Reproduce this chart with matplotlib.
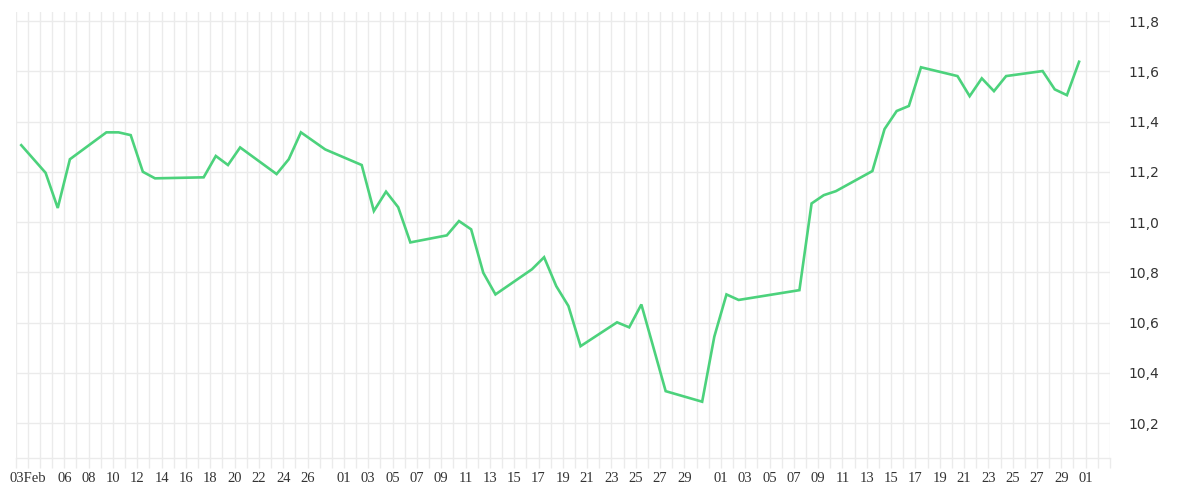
# Linha de cotação diária, fev a mai, eixo de valores à direita

import pandas as pd
import matplotlib
matplotlib.use('Agg')
import matplotlib.pyplot as plt
import matplotlib.dates as mdates
from matplotlib.ticker import FixedLocator, FuncFormatter

# Datas das leituras (a leitura é feita por volta das 11h)
datas = [
    '2023-02-02', '2023-02-04', '2023-02-05', '2023-02-06', '2023-02-09',
    '2023-02-10', '2023-02-11', '2023-02-12', '2023-02-13', '2023-02-17',
    '2023-02-18', '2023-02-19', '2023-02-20', '2023-02-23', '2023-02-24',
    '2023-02-25', '2023-02-27', '2023-03-02', '2023-03-03', '2023-03-04',
    '2023-03-05', '2023-03-06', '2023-03-09', '2023-03-10', '2023-03-11',
    '2023-03-12', '2023-03-13', '2023-03-16', '2023-03-17', '2023-03-18',
    '2023-03-19', '2023-03-20', '2023-03-23', '2023-03-24', '2023-03-25',
    '2023-03-27', '2023-03-30', '2023-03-31', '2023-04-01', '2023-04-02',
    '2023-04-07', '2023-04-08', '2023-04-09', '2023-04-10', '2023-04-13',
    '2023-04-14', '2023-04-15', '2023-04-16', '2023-04-17', '2023-04-20',
    '2023-04-21', '2023-04-22', '2023-04-23', '2023-04-24', '2023-04-27',
    '2023-04-28', '2023-04-29', '2023-04-30',
]
hora_leitura = '11:00'

valores = [
    11.306, 11.196, 11.056, 11.250, 11.357,
    11.357, 11.346, 11.200, 11.174, 11.178,
    11.263, 11.227, 11.297, 11.191, 11.250,
    11.357, 11.289, 11.227, 11.044, 11.121,
    11.059, 10.919, 10.947, 11.004, 10.971,
    10.798, 10.712, 10.812, 10.860, 10.745,
    10.666, 10.506, 10.601, 10.581, 10.672,
    10.327, 10.285, 10.544, 10.712, 10.690,
    10.729, 11.074, 11.107, 11.123, 11.203,
    11.370, 11.442, 11.462, 11.616, 11.581,
    11.501, 11.572, 11.521, 11.581, 11.601,
    11.528, 11.505, 11.638,
]

# Faixa dos eixos
inicio, fim = '2023-02-02', '2023-05-03'
y_min, y_max = 10.061, 11.836
y_ticks = [10.2, 10.4, 10.6, 10.8, 11.0, 11.2, 11.4, 11.6, 11.8]

# Rótulos do eixo x (um tick por dia, rótulo só em alguns)
rotulos_x = {'2023-02-03': '03Feb'}
for d in range(6, 27, 2):
    rotulos_x['2023-02-%02d' % d] = '%02d' % d
for d in range(1, 30, 2):
    rotulos_x['2023-03-%02d' % d] = '%02d' % d
    rotulos_x['2023-04-%02d' % d] = '%02d' % d
rotulos_x['2023-05-01'] = '01'

COR_LINHA = '#4cd27c'
COR_GRADE = '#ebebeb'
COR_TEXTO = '#333333'

x = pd.to_datetime([d + ' ' + hora_leitura for d in datas])

fig = plt.figure(figsize=(12, 5), dpi=100)
ax = fig.add_axes([0.01308, 0.084, 0.9119, 0.892])

ax.plot(x, valores, color=COR_LINHA, linewidth=1.9, solid_joinstyle='miter', zorder=3)

ax.set_xlim(pd.Timestamp(inicio), pd.Timestamp(fim))
ax.set_ylim(y_min, y_max)

# Ticks diários no x
dias = pd.date_range(inicio, fim, freq='D')
ax.xaxis.set_major_locator(FixedLocator(mdates.date2num(dias)))
ax.set_xticklabels([rotulos_x.get(d.strftime('%Y-%m-%d'), '') for d in dias],
                   family='Liberation Serif', fontsize=10.5, color=COR_TEXTO)
ax.tick_params(axis='x', length=7.2, width=1, color=COR_GRADE, pad=3)

# Eixo y do lado direito com vírgula decimal
ax.yaxis.tick_right()
ax.set_yticks(y_ticks)
ax.yaxis.set_major_formatter(FuncFormatter(lambda v, p: ('%.1f' % v).replace('.', ',')))
ax.tick_params(axis='y', length=0, pad=13, labelsize=10, labelcolor=COR_TEXTO)
for t in ax.get_yticklabels():
    t.set_family('DejaVu Sans')

ax.grid(True, color=COR_GRADE, linewidth=1)
ax.set_axisbelow(True)
for lado in ['top', 'left', 'right']:
    ax.spines[lado].set_visible(False)
ax.spines['bottom'].set_color(COR_GRADE)
ax.spines['bottom'].set_linewidth(1)

plt.savefig('out.png', dpi=100)
plt.close()
